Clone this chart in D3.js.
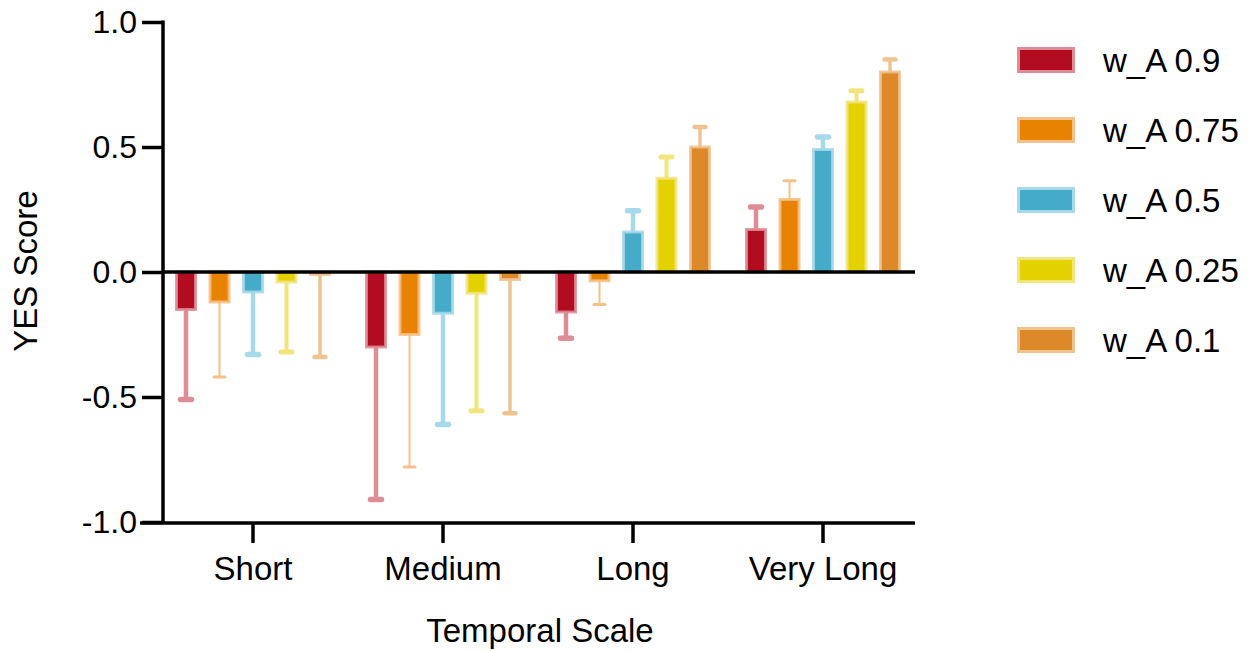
<!DOCTYPE html>
<html>
<head>
<meta charset="utf-8">
<script src="https://cdn.jsdelivr.net/npm/d3@7"></script>
<style>
  html, body { margin: 0; padding: 0; background: #fff; }
  svg { display: block; font-family: "Liberation Sans", Arial, Helvetica, sans-serif; }
</style>
</head>
<body>
<svg id="chart" width="1259" height="651"></svg>
<script>
const categories = ["Short", "Medium", "Long", "Very Long"];
const seriesNames = ["w_A 0.9", "w_A 0.75", "w_A 0.5", "w_A 0.25", "w_A 0.1"];
// mean values per series, in category order
const valA09  = [-0.15, -0.30, -0.16, 0.17];
const valA075 = [-0.12, -0.25, -0.035, 0.29];
const valA05  = [-0.08, -0.165, 0.16, 0.49];
const valA025 = [-0.04, -0.085, 0.375, 0.68];
const valA01  = [-0.01, -0.03, 0.50, 0.80];
// one-sided error (away from zero) per series
const errA09  = [0.36, 0.61, 0.105, 0.09];
const errA075 = [0.30, 0.53, 0.095, 0.075];
const errA05  = [0.25, 0.445, 0.085, 0.05];
const errA025 = [0.28, 0.47, 0.085, 0.045];
const errA01  = [0.33, 0.535, 0.08, 0.05];
const yTicks = [-1.0, -0.5, 0.0, 0.5, 1.0];

const fills   = ["#B10C20", "#E78300", "#45ABC8", "#E3D100", "#DD8829"];
const lights  = ["#DE8C95", "#F6C088", "#A6D9EA", "#F2E57C", "#EFC390"];
const errW    = [4.5, 2, 4.5, 4, 3.5];

const values = [valA09, valA075, valA05, valA025, valA01];
const errors = [errA09, errA075, errA05, errA025, errA01];

const svg = d3.select("#chart");
const FONT = 33;

const y = d3.scaleLinear().domain([-1, 1]).range([522, 22]);
const x0 = d3.scaleBand().domain(categories).range([158, 918]).padding(0);
const x1 = d3.scaleBand().domain(seriesNames).range([-78, 78]).paddingInner(0.343).paddingOuter(0);

const rows = [];
seriesNames.forEach((s, i) => {
  categories.forEach((c, j) => {
    rows.push({ s, i, c, v: values[i][j], e: errors[i][j] });
  });
});

const g = svg.append("g");

// error bars (drawn first, bars over)
rows.forEach(d => {
  const cx = x0(d.c) + x0.bandwidth() / 2 + x1(d.s) + x1.bandwidth() / 2;
  const end = d.v >= 0 ? d.v + d.e : d.v - d.e;
  g.append("line")
    .attr("x1", cx).attr("x2", cx)
    .attr("y1", y(d.v)).attr("y2", y(end))
    .attr("stroke", lights[d.i]).attr("stroke-width", errW[d.i]);
  g.append("line")
    .attr("x1", cx - 5.5).attr("x2", cx + 5.5)
    .attr("y1", y(end)).attr("y2", y(end))
    .attr("stroke", lights[d.i]).attr("stroke-width", errW[d.i] + 1)
    .attr("stroke-linecap", "round");
});

rows.forEach(d => {
  const bx = x0(d.c) + x0.bandwidth() / 2 + x1(d.s);
  const top = Math.min(y(d.v), y(0));
  const h = Math.abs(y(d.v) - y(0));
  g.append("rect")
    .attr("x", bx + 1.5).attr("y", top)
    .attr("width", x1.bandwidth() - 3).attr("height", h)
    .attr("fill", fills[d.i])
    .attr("stroke", lights[d.i]).attr("stroke-width", 3)
    .attr("stroke-opacity", 0.85);
});

// zero line
svg.append("line")
  .attr("x1", 163).attr("x2", 915)
  .attr("y1", y(0)).attr("y2", y(0))
  .attr("stroke", "#000").attr("stroke-width", 3.5);

// y axis
const yAxis = d3.axisLeft(y).tickValues(yTicks).tickFormat(d3.format(".1f")).tickSize(21).tickPadding(5);
const ya = svg.append("g").attr("transform", "translate(163,0)").call(yAxis);
ya.select(".domain").attr("stroke-width", 3.5).attr("d", "M0,20.5V523.5");
ya.selectAll(".tick line").attr("stroke-width", 3.5);
ya.selectAll(".tick text").attr("font-size", 32).attr("fill", "#000")
  .attr("font-family", "'Liberation Sans', Arial, sans-serif")
  .text(d => d < 0 ? "-" + Math.abs(d).toFixed(1) : d.toFixed(1));

// x axis
const xAxis = d3.axisBottom(x0).tickSize(20).tickPadding(14);
const xa = svg.append("g").attr("transform", "translate(0,523)").call(xAxis);
xa.select(".domain").attr("stroke-width", 3.5).attr("d", "M140,0H915");
xa.selectAll(".tick line").attr("stroke-width", 3.5);
xa.selectAll(".tick text").attr("font-size", FONT).attr("fill", "#000")
  .attr("font-family", "'Liberation Sans', Arial, sans-serif");

// axis titles
svg.append("text")
  .attr("x", 540).attr("y", 642)
  .attr("text-anchor", "middle").attr("font-size", FONT).text("Temporal Scale");
svg.append("text")
  .attr("transform", "translate(37,271) rotate(-90)")
  .attr("text-anchor", "middle").attr("font-size", FONT).text("YES Score");

// legend
const lg = svg.append("g");
seriesNames.forEach((s, i) => {
  const cy = 60 + i * 70;
  lg.append("rect")
    .attr("x", 1018.5).attr("y", cy - 11.5)
    .attr("width", 55).attr("height", 23)
    .attr("fill", fills[i]).attr("stroke", lights[i]).attr("stroke-width", 3);
  lg.append("text")
    .attr("x", 1103).attr("y", cy + 12)
    .attr("font-size", FONT).text(s);
});
</script>
</body>
</html>
